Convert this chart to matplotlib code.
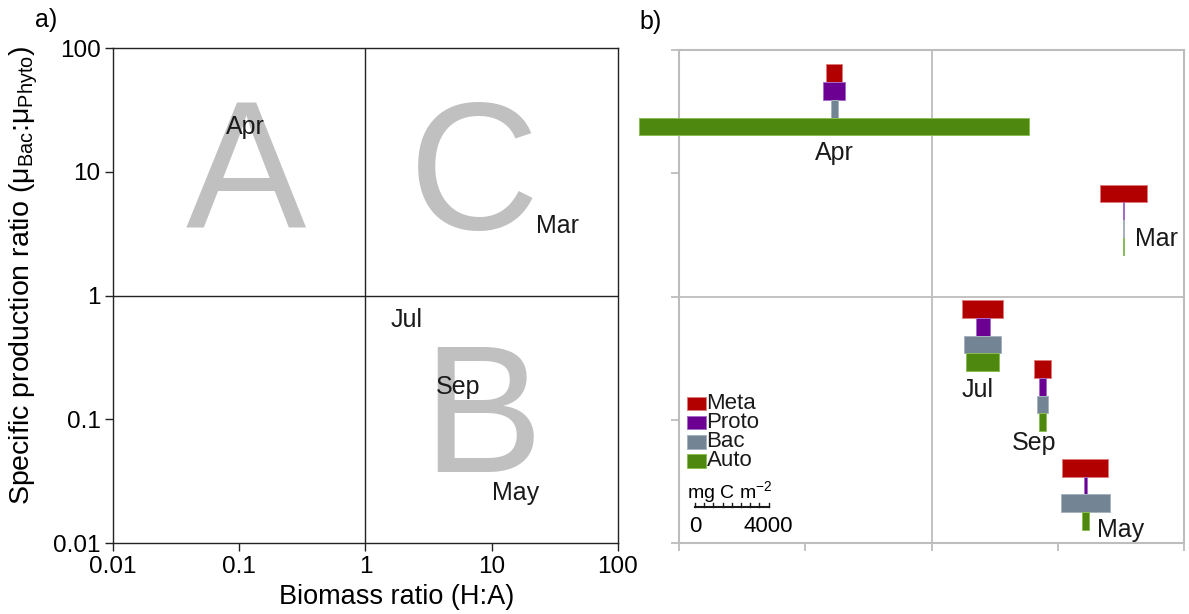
import matplotlib
matplotlib.use("Agg")

from matplotlib import pyplot as plt
from matplotlib.patches import Rectangle
from matplotlib.lines import Line2D
from matplotlib.ticker import FixedLocator, FixedFormatter, NullLocator
from matplotlib.transforms import ScaledTranslation

plt.rcParams['font.family'] = ['Liberation Sans', 'DejaVu Sans']
plt.rcParams['mathtext.fontset'] = 'custom'
plt.rcParams['mathtext.rm'] = 'Liberation Sans'
plt.rcParams['mathtext.it'] = 'Liberation Sans:italic'

##Data
months = ["Mar", "Apr", "May", "Jul", "Sep"]
biomass_ratio = [33.2, 0.169, 16.5, 2.54, 7.57]        # H:A
production_ratio = [4.18, 39.4, 0.0248, 0.481, 0.157]  # muBac:muPhyto

groups = ["Meta", "Proto", "Bac", "Auto"]
# biomass, mg C m-2, per month (same order as months)
meta = [2550, 900, 2520, 2230, 890]
proto = [80, 1150, 150, 750, 330]
bac = [80, 380, 2670, 2030, 580]
auto = [80, 21200, 380, 1830, 330]

ticks = [0.01, 0.1, 1, 10, 100]
tick_labels = ["0.01", "0.1", "1", "10", "100"]

quadrant_letters = ["A", "C", "B"]
quadrant_x = [0.113, 7.2, 8.5]
quadrant_y = [3.45, 3.45, 0.0375]

scale_max = 4000

##Style
group_colors = ["#b20000", "#6c0092", "#738595", "#4e880f"]
group_edges = ["#e07a7a", "#a46cc4", "#a6b2bd", "#8cbc55"]
grey = "#bdbdbd"
IN_PER_MG = 0.735 / 4000
BAR_H = 0.177

# label offsets (points) relative to each month's point
offsets_a = {"Mar": (0, -10, "center"), "Apr": (-16, -26, "center"), "May": (-2.5, -4, "center"),
             "Jul": (-7, 6, "center"), "Sep": (-13, 1, "center")}
offsets_b = {"Mar": (8.3, -19, "left"), "Apr": (0, -43, "center"), "May": (8.4, -31, "left"),
             "Jul": (-4, -44, "center"), "Sep": (-6, -39, "center")}

fig = plt.figure(figsize=(11.89, 6.14), dpi=100)
ax_a = fig.add_axes([0.0950, 0.1156, 0.4247, 0.8062])
ax_b = fig.add_axes([0.5711, 0.1156, 0.4247, 0.8030])


def setup_log(ax):
    ax.set_xscale("log")
    ax.set_yscale("log")
    ax.set_xlim(0.01, 100)
    ax.set_ylim(0.01, 100)
    for axis in (ax.xaxis, ax.yaxis):
        axis.set_major_locator(FixedLocator(ticks))
        axis.set_major_formatter(FixedFormatter(tick_labels))
        axis.set_minor_locator(NullLocator())


##Panel a
setup_log(ax_a)
ax_a.axvline(1, color="#222222", lw=1.0)
ax_a.axhline(1, color="#222222", lw=1.0)
for s in ax_a.spines.values():
    s.set_color("#222222")
    s.set_linewidth(1.0)
ax_a.tick_params(direction="out", length=6, width=1, color="#222222", labelsize=17.5, pad=3)

for letter, qx, qy in zip(quadrant_letters, quadrant_x, quadrant_y):
    ax_a.text(qx, qy, letter, fontsize=130, color="#c0c0c0", ha="center", va="baseline", zorder=1)

for m, x, y in zip(months, biomass_ratio, production_ratio):
    dx, dy, ha = offsets_a[m]
    ax_a.annotate(m, (x, y), xytext=(dx, dy), textcoords="offset points",
                  ha=ha, va="baseline", fontsize=18, color="#1a1a1a", zorder=3)

ax_a.set_xlabel("Biomass ratio (H:A)", fontsize=19.5)
ax_a.xaxis.set_label_coords(0.562, -0.083)
ax_a.set_ylabel(r"Specific production ratio (μ$_{\mathrm{Bac}}$:μ$_{\mathrm{Phyto}}$)", fontsize=20.5)
ax_a.yaxis.set_label_coords(-0.145, 0.54)

##Panel b
setup_log(ax_b)
ax_b.axvline(1, color=grey, lw=1.3)
ax_b.axhline(1, color=grey, lw=1.3)
for s in ax_b.spines.values():
    s.set_color(grey)
    s.set_linewidth(1.5)
ax_b.tick_params(direction="out", length=6, width=1.3, color=grey, labelleft=False, labelbottom=False)

for k, m in enumerate(months):
    x, y = biomass_ratio[k], production_ratio[k]
    origin = fig.dpi_scale_trans + ScaledTranslation(x, y, ax_b.transData)
    values = [meta[k], proto[k], bac[k], auto[k]]
    for i, v in enumerate(values):
        w = v * IN_PER_MG
        ax_b.add_patch(Rectangle((-w / 2, BAR_H * (1 - i)), w, BAR_H, transform=origin,
                                 facecolor=group_colors[i], edgecolor=group_edges[i],
                                 lw=0.7, clip_on=False, zorder=3))
    dx, dy, ha = offsets_b[m]
    ax_b.annotate(m, (x, y), xytext=(dx, dy), textcoords="offset points",
                  ha=ha, va="baseline", fontsize=18, color="#1a1a1a", zorder=4)

# legend
leg_origin = fig.dpi_scale_trans + ScaledTranslation(0.0158, 0.296, ax_b.transAxes)
for i, g in enumerate(groups):
    yc = -0.065 - i * 0.191
    ax_b.add_patch(Rectangle((0, yc - 0.0675), 0.19, 0.135, transform=leg_origin,
                             facecolor=group_colors[i], edgecolor=group_edges[i], lw=0.7, clip_on=False))
    ax_b.text(0.195, yc, g, transform=leg_origin, fontsize=16, ha="left", va="center", color="#1a1a1a")

# scale bar
sb_origin = fig.dpi_scale_trans + ScaledTranslation(0.0317, 0.073, ax_b.transAxes)
sb_len = scale_max * IN_PER_MG
ax_b.add_line(Line2D([0, sb_len], [0, 0], transform=sb_origin, color="#1a1a1a", lw=1.5, clip_on=False))
for t in range(0, scale_max + 1, 500):
    tx = t * IN_PER_MG
    ax_b.add_line(Line2D([tx, tx], [0, 0.04], transform=sb_origin, color="#1a1a1a", lw=1.0, clip_on=False))
ax_b.text(0, -0.25, "0", transform=sb_origin, fontsize=16, ha="center", va="baseline")
ax_b.text(sb_len, -0.25, str(scale_max), transform=sb_origin, fontsize=16, ha="center", va="baseline")
ax_b.text(-0.08, 0.09, r"mg C m$^{-2}$", transform=sb_origin, fontsize=14, ha="left", va="baseline")

fig.text(35 / 1189, 1 - 27 / 614, "a)", fontsize=18, ha="left", va="baseline")
fig.text(639 / 1189, 1 - 29 / 614, "b)", fontsize=18, ha="left", va="baseline")

fig.savefig("out.png", dpi=100)
